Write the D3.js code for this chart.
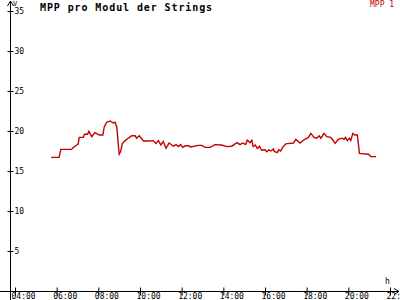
<!DOCTYPE html>
<html lang="de">
<head>
  <meta charset="UTF-8" />
  <title>MPP pro Modul der Strings</title>
  <script src="https://d3js.org/d3.v7.min.js"></script>
  <style>
    body { margin: 0; background: #fff; }
    text { font-family: "DejaVu Sans Mono", monospace; }
  </style>
</head>
<body>
  <svg id="chart" width="400" height="300"></svg>
  <script>
    // MPP 1 readings (time of day, volts)
    const times = ["05:44","06:07","06:12","06:43","06:47","06:58","07:02","07:05","07:17","07:20",
      "07:29","07:33","07:41","07:50","08:03","08:13","08:17","08:24","08:34","08:43",
      "08:48","08:53","09:00","09:04","09:09","09:17","09:26","09:36","09:46","09:50",
      "09:58","10:10","10:24","10:38","10:46","10:53","11:00","11:07","11:15","11:24",
      "11:36","11:44","11:50","11:57","12:03","12:10","12:19","12:26","12:48","12:58",
      "13:07","13:22","13:36","13:55","14:10","14:24","14:34","14:40","14:48","14:56",
      "15:04","15:09","15:17","15:22","15:26","15:32","15:38","15:44","15:50","16:00",
      "16:05","16:11","16:17","16:24","16:27","16:35","16:40","16:45","16:51","17:00",
      "17:12","17:22","17:29","17:41","17:52","18:05","18:12","18:21","18:29","18:36",
      "18:41","18:50","18:58","19:09","19:15","19:22","19:31","19:41","19:48","19:52",
      "19:57","20:03","20:07","20:13","20:19","20:26","20:32","20:58","21:05","21:20"];
    const mpp1 = [16.7,16.7,17.7,17.7,17.9,18.25,18.4,19.2,19.2,19.6,
      19.6,19.95,19.3,19.8,19.5,19.5,20.5,21.1,21.25,21.0,
      21.1,20.5,17.1,17.4,18.4,18.8,19.1,19.4,19.4,19.1,
      19.4,18.75,18.75,18.8,18.45,18.8,18.25,18.7,17.85,18.5,
      18.1,18.3,18.05,18.3,17.95,18.15,18.15,18.0,18.2,18.2,
      17.95,17.95,18.3,18.25,18.05,18.1,18.4,18.55,18.3,18.5,
      18.3,18.85,18.55,18.85,18.05,18.25,17.8,18.1,17.6,17.65,
      17.4,17.65,17.5,17.75,17.45,17.3,17.65,17.5,17.95,18.4,
      18.45,18.5,18.95,18.5,18.9,19.2,19.7,19.2,19.1,19.4,
      19.1,19.7,19.3,19.2,18.9,18.45,18.95,19.1,18.95,19.2,
      18.8,19.1,18.8,19.7,19.5,19.5,17.2,17.1,16.8,16.8];
    const xTicks = ["04:00","06:00","08:00","10:00","12:00","14:00","16:00","18:00","20:00","22:00"];
    const yTicks = [5,10,15,20,25,30,35];

    const parse = d3.timeParse("%H:%M");
    const data = times.map((t, i) => ({ t: parse(t), v: mpp1[i] }));

    const svg = d3.select("#chart");
    const x = d3.scaleTime().domain([parse("04:00"), parse("22:00")]).range([15, 390]);
    const y = d3.scaleLinear().domain([0, 35]).range([291, 11]);

    // axes lines
    svg.append("line").attr("x1", 10.5).attr("x2", 10.5).attr("y1", 1).attr("y2", 300)
      .attr("stroke", "#000");
    svg.append("line").attr("x1", 0).attr("x2", 399).attr("y1", 291.5).attr("y2", 291.5)
      .attr("stroke", "#000");
    // arrows
    svg.append("path").attr("d", "M7.5,6 L10.5,1 L13.5,6").attr("fill", "none").attr("stroke", "#000");
    svg.append("path").attr("d", "M394,288.5 L399,291.5 L394,294.5").attr("fill", "none").attr("stroke", "#000");
    svg.append("text").attr("x", 13).attr("y", 6).attr("font-size", 7).text("V");
    svg.append("text").attr("x", 385).attr("y", 284).attr("font-size", 8).text("h");

    const xAxis = svg.append("g").attr("transform", "translate(0,291.5)")
      .call(d3.axisBottom(x).tickValues(xTicks.map(parse)).tickFormat(d3.timeFormat("%H:%M")).tickSize(4));
    xAxis.select(".domain").remove();
    xAxis.selectAll(".tick line").attr("y1", -4).attr("stroke", "#000");
    xAxis.selectAll(".tick text").attr("text-anchor", "start").attr("x", -4).attr("y", 7.5)
      .attr("dy", 0).attr("font-size", 8).attr("font-family", "DejaVu Sans Mono").attr("fill", "#000");

    const yAxis = svg.append("g").attr("transform", "translate(10.5,0)")
      .call(d3.axisRight(y).tickValues(yTicks).tickSize(3));
    yAxis.select(".domain").remove();
    yAxis.selectAll(".tick line").attr("x1", -3).attr("stroke", "#000");
    yAxis.selectAll(".tick text").attr("x", 4).attr("dy", "0.35em").attr("font-size", 8)
      .attr("font-family", "DejaVu Sans Mono").attr("fill", "#000");

    // title and legend
    svg.append("text").attr("x", 40).attr("y", 11).attr("font-size", 10).attr("font-weight", "bold")
      .attr("letter-spacing", 0.9).text("MPP pro Modul der Strings");
    svg.append("text").attr("x", 370).attr("y", 7).attr("font-size", 8).attr("fill", "#c00000")
      .text("MPP 1");

    const line = d3.line().x(d => x(d.t)).y(d => y(d.v));
    svg.append("path").datum(data).attr("d", line).attr("fill", "none")
      .attr("stroke", "#c00000").attr("stroke-width", 1.4);
  </script>
</body>
</html>
